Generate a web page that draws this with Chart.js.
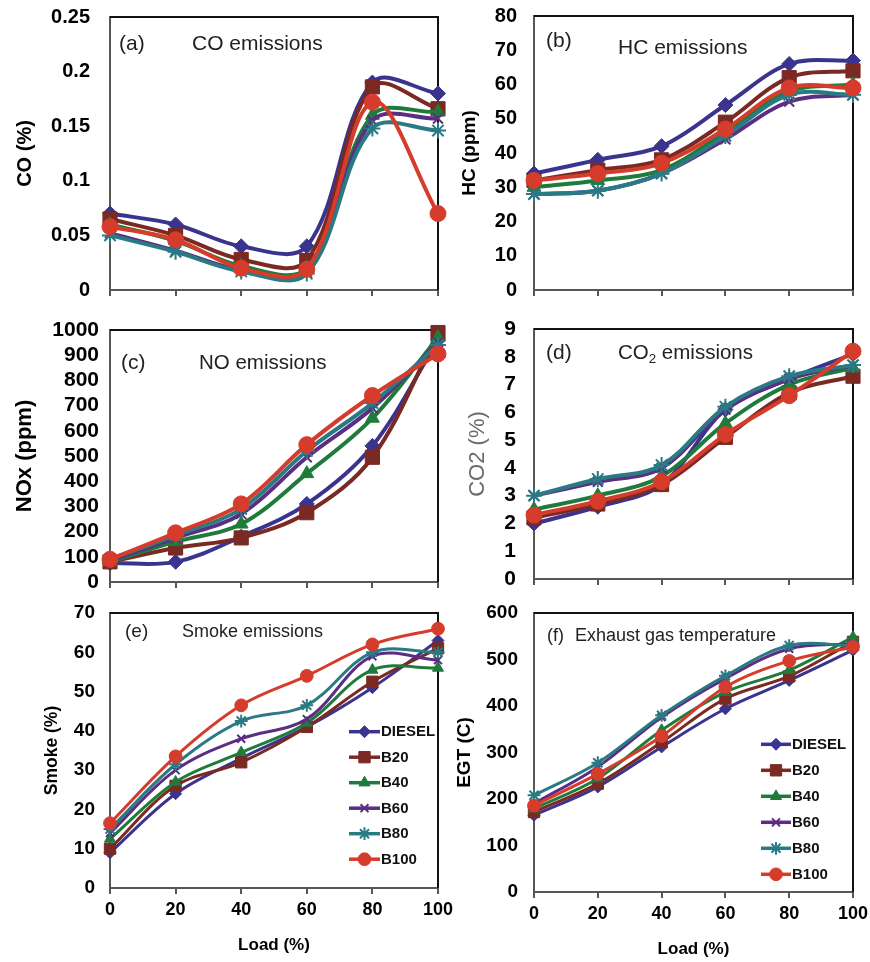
<!DOCTYPE html>
<html>
<head>
<meta charset="utf-8">
<title>Emission characteristics vs load</title>
<script src="https://cdn.jsdelivr.net/npm/chart.js@4.4.1/dist/chart.umd.min.js"></script>
<style>
  html, body { margin: 0; padding: 0; background: #fff; }
  #page { position: relative; width: 870px; height: 962px; overflow: hidden; }
  #page canvas { position: absolute; }
</style>
</head>
<body>
<div id="page">
  <canvas id="coChart"></canvas>
  <canvas id="hcChart"></canvas>
  <canvas id="noxChart"></canvas>
  <canvas id="co2Chart"></canvas>
  <canvas id="smokeChart"></canvas>
  <canvas id="egtChart"></canvas>
</div>
<script>
// Engine load (%) and fuel blends
const loads = [0, 20, 40, 60, 80, 100];
const fuels = ['DIESEL', 'B20', 'B40', 'B60', 'B80', 'B100'];

// (a) CO (%)
const coDiesel = [0.07, 0.06, 0.04, 0.04, 0.19, 0.18];
const coB20 = [0.065, 0.05, 0.028, 0.027, 0.186, 0.166];
const coB40 = [0.06, 0.045, 0.022, 0.02, 0.16, 0.163];
const coB60 = [0.052, 0.036, 0.018, 0.016, 0.155, 0.157];
const coB80 = [0.05, 0.035, 0.017, 0.015, 0.148, 0.146];
const coB100 = [0.058, 0.046, 0.02, 0.019, 0.172, 0.07];

// (b) HC (ppm)
const hcDiesel = [34, 38, 42, 54, 66, 67];
const hcB20 = [32, 35, 38, 49, 62, 64];
const hcB40 = [30, 32, 35, 46, 58, 60];
const hcB60 = [28, 29, 34, 44, 55, 57];
const hcB80 = [28, 29, 34, 45, 57, 57];
const hcB100 = [32, 34, 37, 47, 59, 59];

// (c) NOx (ppm)
const noxDiesel = [75, 80, 180, 310, 540, 960];
const noxB20 = [80, 135, 175, 275, 495, 990];
const noxB40 = [80, 160, 230, 430, 650, 970];
const noxB60 = [85, 175, 270, 495, 690, 950];
const noxB80 = [90, 185, 290, 520, 710, 940];
const noxB100 = [90, 195, 310, 545, 740, 905];

// (d) CO2 (%)
const co2Diesel = [2.0, 2.6, 3.4, 6.1, 7.2, 8.1];
const co2B20 = [2.2, 2.7, 3.4, 5.1, 6.7, 7.3];
const co2B40 = [2.5, 3.0, 3.7, 5.6, 7.0, 7.6];
const co2B60 = [3.0, 3.5, 4.0, 6.1, 7.2, 7.7];
const co2B80 = [3.0, 3.6, 4.1, 6.2, 7.3, 7.7];
const co2B100 = [2.3, 2.8, 3.5, 5.2, 6.6, 8.2];

// (e) Smoke (%)
const smokeDiesel = [9, 24, 33, 41, 51, 63];
const smokeB20 = [10, 26, 32, 41, 52.5, 61];
const smokeB40 = [12.5, 27, 34.5, 42, 55.5, 56];
const smokeB60 = [14, 30, 38, 43, 59, 58];
const smokeB80 = [15, 31.5, 42.5, 46.5, 60, 60];
const smokeB100 = [16.5, 33.5, 46.5, 54, 62, 66];

// (f) EGT (C)
const egtDiesel = [165, 226, 312, 394, 455, 520];
const egtB20 = [172, 233, 322, 416, 464, 538];
const egtB40 = [179, 244, 348, 430, 477, 548];
const egtB60 = [190, 269, 376, 459, 523, 534];
const egtB80 = [208, 278, 380, 465, 530, 530];
const egtB100 = [186, 254, 335, 441, 497, 527];

// Y axis ranges [min, max, step]
const coAxis = [0, 0.25, 0.05];
const hcAxis = [0, 80, 10];
const noxAxis = [0, 1000, 100];
const co2Axis = [0, 9, 1];
const smokeAxis = [0, 70, 10];
const egtAxis = [0, 600, 100];

// Marker / colour per fuel
const fuelStyles = [
    { color: '#3b348f', shape: 'rectRot', radius: 7.5 },
    { color: '#7a2a22', shape: 'rect', radius: 10 },
    { color: '#1f7b3b', shape: 'triangle', radius: 8 },
    { color: '#5b2e84', shape: 'crossRot', radius: 7, stroke: true },
    { color: '#2a7a84', shape: 'star', radius: 8, stroke: true },
    { color: '#d63c2b', shape: 'circle', radius: 8 }
];

const axisGray = '#5b5650';
Chart.defaults.font.family = "'Liberation Sans', Arial, sans-serif";

// Panel layout: canvas box [left, top, w, h], plot area [left, right, top, bottom] in page px
const panels = [
    {
        id: 'coChart', series: [coDiesel, coB20, coB40, coB60, coB80, coB100], axis: coAxis,
        box: [0, 0, 460, 305], area: [110, 438, 17, 290],
        yTitle: 'CO (%)', yTitleX: 25, yTitleSize: 20, tickSize: 20, tickPad: 20,
        tag: ['(a)', 119, 44, 21], title: [['CO emissions', false]], titleX: 192, titleY: 44, titleSize: 21,
        lineWidth: 4, markerScale: 1
    },
    {
        id: 'hcChart', series: [hcDiesel, hcB20, hcB40, hcB60, hcB80, hcB100], axis: hcAxis,
        box: [430, 0, 440, 305], area: [534, 853, 16, 290],
        yTitle: 'HC (ppm)', yTitleX: 470, yTitleSize: 19, tickSize: 20, tickPad: 17,
        tag: ['(b)', 546, 41, 21], title: [['HC emissions', false]], titleX: 618, titleY: 48, titleSize: 21,
        lineWidth: 4, markerScale: 1
    },
    {
        id: 'noxChart', series: [noxDiesel, noxB20, noxB40, noxB60, noxB80, noxB100], axis: noxAxis,
        box: [0, 300, 460, 305], area: [110, 438, 330, 582],
        yTitle: 'NOx (ppm)', yTitleX: 25, yTitleSize: 22, tickSize: 21, tickPad: 11,
        tag: ['(c)', 121, 363, 21], title: [['NO emissions', false]], titleX: 199, titleY: 363, titleSize: 20.5,
        lineWidth: 4, markerScale: 1
    },
    {
        id: 'co2Chart', series: [co2Diesel, co2B20, co2B40, co2B60, co2B80, co2B100], axis: co2Axis,
        box: [430, 300, 440, 305], area: [534, 853, 329, 579],
        yTitle: 'CO2 (%)', yTitleX: 478, yTitleSize: 22, yTitleLight: true, tickSize: 21, tickPad: 18,
        tag: ['(d)', 546, 353, 21], title: [['CO', false], ['2', true], [' emissions', false]], titleX: 618, titleY: 353, titleSize: 20.5,
        lineWidth: 4, markerScale: 1
    },
    {
        id: 'smokeChart', series: [smokeDiesel, smokeB20, smokeB40, smokeB60, smokeB80, smokeB100], axis: smokeAxis,
        box: [0, 600, 460, 362], area: [110, 438, 613, 888],
        yTitle: 'Smoke (%)', yTitleX: 52, yTitleSize: 17.5, tickSize: 19, tickPad: 15,
        tag: ['(e)', 125, 632, 19], title: [['Smoke emissions', false]], titleX: 182, titleY: 632, titleSize: 18,
        xTitleY: 945, lineWidth: 3, markerScale: 0.8,
        legend: { x: 349, y: 731.7, gap: 25.5, len: 31 }
    },
    {
        id: 'egtChart', series: [egtDiesel, egtB20, egtB40, egtB60, egtB80, egtB100], axis: egtAxis,
        box: [430, 600, 440, 362], area: [534, 853, 613, 892],
        yTitle: 'EGT (C)', yTitleX: 465, yTitleSize: 19, tickSize: 19, tickPad: 16,
        tag: ['(f)', 547, 636, 18], title: [['Exhaust gas temperature', false]], titleX: 575, titleY: 636, titleSize: 18,
        xTitleY: 949, lineWidth: 3, markerScale: 0.8,
        legend: { x: 761, y: 744.3, gap: 26, len: 30 }
    }
];

// Plugin: black top/right frame of the plot area
const framePlugin = {
    id: 'frame',
    beforeDatasetsDraw(chart) {
        const { ctx, chartArea: a } = chart;
        ctx.save();
        ctx.strokeStyle = '#111';
        ctx.lineWidth = 2;
        ctx.beginPath();
        ctx.moveTo(a.left, a.top);
        ctx.lineTo(a.right, a.top);
        ctx.lineTo(a.right, a.bottom);
        ctx.stroke();
        ctx.restore();
    }
};

// Plugin: panel tag and title written inside the plot
const panelTextPlugin = {
    id: 'panelText',
    afterDatasetsDraw(chart, args, opts) {
        const ctx = chart.ctx;
        ctx.save();
        ctx.fillStyle = '#222';
        ctx.textBaseline = 'middle';
        ctx.textAlign = 'left';
        const fam = Chart.defaults.font.family;
        ctx.font = opts.tag[3] + 'px ' + fam;
        ctx.fillText(opts.tag[0], opts.tag[1] - opts.ox, opts.tag[2] - opts.oy);
        let x = opts.titleX - opts.ox;
        const y = opts.titleY - opts.oy;
        opts.title.forEach(([text, sub]) => {
            const size = sub ? opts.titleSize * 0.65 : opts.titleSize;
            ctx.font = size + 'px ' + fam;
            ctx.fillText(text, x, sub ? y + opts.titleSize * 0.3 : y);
            x += ctx.measureText(text).width;
        });
        ctx.restore();
    }
};

// Plugin: legend box drawn inside the plot area
const insideLegendPlugin = {
    id: 'insideLegend',
    afterDatasetsDraw(chart, args, opts) {
        if (!opts.spec) return;
        const ctx = chart.ctx;
        const spec = opts.spec;
        ctx.save();
        chart.data.datasets.forEach((ds, i) => {
            const y = spec.y - opts.oy + i * spec.gap;
            const x0 = spec.x - opts.ox;
            const x1 = x0 + spec.len;
            ctx.strokeStyle = ds.borderColor;
            ctx.lineWidth = 3.5;
            ctx.beginPath();
            ctx.moveTo(x0, y);
            ctx.lineTo(x1, y);
            ctx.stroke();

            ctx.fillStyle = ds.pointBackgroundColor;
            ctx.strokeStyle = ds.pointBorderColor;
            ctx.lineWidth = ds.pointBorderWidth;
            Chart.helpers.drawPoint(ctx, {
                pointStyle: ds.pointStyle,
                radius: ds.pointRadius,
                rotation: 0,
                borderWidth: ds.pointBorderWidth
            }, (x0 + x1) / 2, y);

            ctx.fillStyle = '#111';
            ctx.font = 'bold 15px ' + Chart.defaults.font.family;
            ctx.textBaseline = 'middle';
            ctx.textAlign = 'left';
            ctx.fillText(ds.label, x1 + 1, y + 0.5);
        });
        ctx.restore();
    }
};

// Function to build one panel
function buildChart(p) {
    const canvas = document.getElementById(p.id);
    const [cl, ct, cw, ch] = p.box;
    const [al, ar, at, ab] = p.area;
    canvas.width = cw;
    canvas.height = ch;
    canvas.style.left = cl + 'px';
    canvas.style.top = ct + 'px';

    const xTitleSize = 17;
    const padBottom = p.xTitleY ? ct + ch - (p.xTitleY + xTitleSize / 2) : 0;
    const padLeft = p.yTitleX - cl - p.yTitleSize / 2;
    const yWidth = al - cl - padLeft;
    const xHeight = ct + ch - padBottom - ab;

    const datasets = p.series.map((values, i) => {
        const st = fuelStyles[i];
        return {
            label: fuels[i],
            data: values,
            borderColor: st.color,
            backgroundColor: st.color,
            borderWidth: p.lineWidth,
            pointStyle: st.shape,
            pointRadius: st.radius * p.markerScale,
            pointBackgroundColor: st.color,
            pointBorderColor: st.color,
            pointBorderWidth: st.stroke ? 2 : 1,
            tension: 0.35,
            clip: false,
            order: fuels.length - i
        };
    });

    new Chart(canvas, {
        type: 'line',
        data: { labels: loads, datasets: datasets },
        plugins: [framePlugin, panelTextPlugin, insideLegendPlugin],
        options: {
            responsive: false,
            animation: false,
            events: [],
            layout: {
                padding: { left: padLeft, right: cl + cw - ar, top: at - ct, bottom: padBottom }
            },
            plugins: {
                legend: { display: false },
                tooltip: { enabled: false },
                panelText: {
                    ox: cl, oy: ct, tag: p.tag, title: p.title,
                    titleX: p.titleX, titleY: p.titleY, titleSize: p.titleSize
                },
                insideLegend: { ox: cl, oy: ct, spec: p.legend || null }
            },
            scales: {
                x: {
                    type: 'category',
                    offset: false,
                    grid: {
                        display: true, drawOnChartArea: false, drawTicks: true,
                        tickLength: 6, color: axisGray, lineWidth: 2
                    },
                    border: { display: true, color: axisGray, width: 2 },
                    ticks: {
                        display: !!p.xTitleY, color: '#000', padding: 7,
                        maxRotation: 0, autoSkip: false,
                        font: { size: 18, weight: 'bold', lineHeight: 1 }
                    },
                    title: {
                        display: !!p.xTitleY, text: 'Load (%)', color: '#000', padding: 0,
                        font: { size: xTitleSize, weight: 'bold', lineHeight: 1 }
                    },
                    afterFit: (scale) => {
                        scale.height = xHeight;
                        scale.paddingLeft = 0;
                        scale.paddingRight = 0;
                    }
                },
                y: {
                    min: p.axis[0],
                    max: p.axis[1],
                    grid: { display: false, drawTicks: false },
                    border: { display: true, color: axisGray, width: 2 },
                    ticks: {
                        stepSize: p.axis[2], autoSkip: false, color: '#000', padding: p.tickPad,
                        font: { size: p.tickSize, weight: 'bold', lineHeight: 1 },
                        callback: (v) => String(Number(v.toFixed(3)))
                    },
                    title: {
                        display: true, text: p.yTitle, padding: 0,
                        color: p.yTitleLight ? '#6b6b6b' : '#000',
                        font: { size: p.yTitleSize, weight: p.yTitleLight ? 'normal' : 'bold', lineHeight: 1 }
                    },
                    afterFit: (scale) => {
                        scale.width = yWidth;
                        scale.paddingTop = 0;
                        scale.paddingBottom = 0;
                    }
                }
            }
        }
    });
}

// Initial render
panels.forEach(buildChart);
</script>
</body>
</html>
